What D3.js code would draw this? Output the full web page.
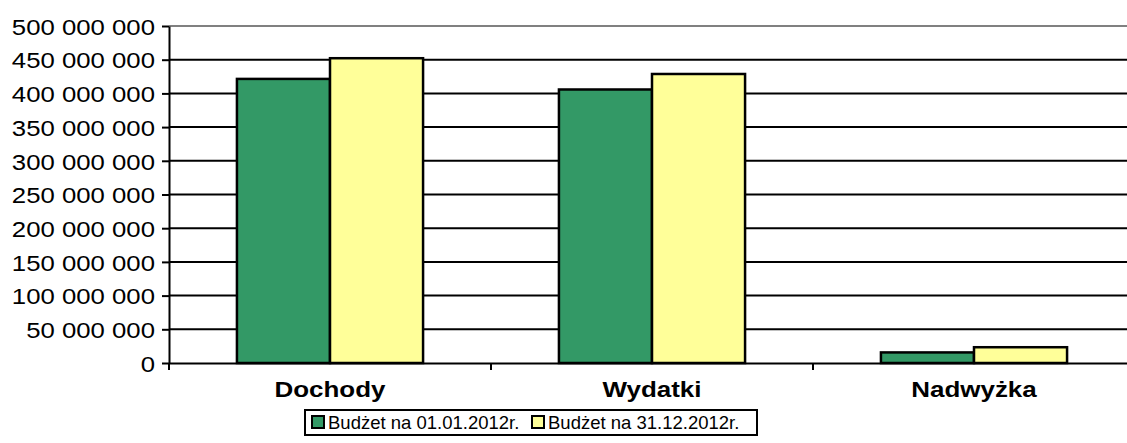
<!DOCTYPE html>
<html>
<head>
<meta charset="utf-8">
<script src="https://cdn.jsdelivr.net/npm/d3@7"></script>
<style>
  body { margin: 0; background: #fff; }
  svg { display: block; }
  svg text { font-family: "Liberation Sans", Arial, sans-serif; }
</style>
</head>
<body>
<div id="chart"></div>
<script>
// data
var categories = ["Dochody", "Wydatki", "Nadwyżka"];
var seriesNames = ["Budżet na 01.01.2012r.", "Budżet na 31.12.2012r."];
var budzetPoczatek = [421500000, 405800000, 15700000];
var budzetKoniec = [452200000, 428800000, 23400000];
var yTicks = [0, 50000000, 100000000, 150000000, 200000000, 250000000,
              300000000, 350000000, 400000000, 450000000, 500000000];

var cfg = {
    width: 1127,
    height: 443,
    left: 169,
    right: 1135,
    top: 26,
    bottom: 363
};
var colors = ["#339966", "#ffff99"];

var svg = d3.select("#chart").append("svg")
    .attr("width", cfg.width)
    .attr("height", cfg.height);

var x = d3.scaleBand()
    .domain(categories)
    .range([cfg.left, cfg.right])
    .paddingInner(0)
    .paddingOuter(0);

// two bars per category, gap on each side (Excel gap width ~73%)
var inner = d3.scaleBand()
    .domain([0, 1])
    .range([0, x.bandwidth()])
    .paddingInner(0)
    .paddingOuter(0.73);

var y = d3.scaleLinear()
    .domain([0, 500000000])
    .range([cfg.bottom, cfg.top]);

var fmt = function(d) {
    return d3.format(",")(d).replace(/,/g, " ");
};

// gridlines
svg.append("g")
    .selectAll("line")
    .data(yTicks.filter(function(d) { return d > 0; }))
    .enter().append("line")
    .attr("x1", cfg.left)
    .attr("x2", cfg.right)
    .attr("y1", function(d) { return y(d); })
    .attr("y2", function(d) { return y(d); })
    .attr("stroke", function(d) { return d == 500000000 ? "#808080" : "#000"; })
    .attr("stroke-width", 2);

// bars
var rows = categories.map(function(c, i) {
    return {cat: c, vals: [budzetPoczatek[i], budzetKoniec[i]]};
});

svg.append("g")
    .selectAll("g")
    .data(rows)
    .enter().append("g")
    .attr("transform", function(d) { return "translate(" + x(d.cat) + ",0)"; })
    .selectAll("rect")
    .data(function(d) { return d.vals; })
    .enter().append("rect")
    .attr("x", function(d, i) { return inner(i); })
    .attr("y", function(d) { return y(d); })
    .attr("width", inner.bandwidth())
    .attr("height", function(d) { return y(0) - y(d); })
    .attr("fill", function(d, i) { return colors[i]; })
    .attr("stroke", "#000")
    .attr("stroke-width", 2.5);

// axes
var yAxis = d3.axisLeft(y)
    .tickValues(yTicks)
    .tickSizeInner(7)
    .tickSizeOuter(0)
    .tickFormat(fmt);

var gy = svg.append("g")
    .attr("transform", "translate(" + cfg.left + ",0)")
    .call(yAxis)
    .attr("font-family", null);
gy.select(".domain").attr("stroke", "#000").attr("stroke-width", 2);
gy.selectAll(".tick line").attr("stroke-width", 2);
gy.selectAll(".tick text")
    .attr("x", 0)
    .attr("dy", "0.36em")
    .attr("transform", "translate(-14,0) scale(1.12,1)")
    .style("font-size", "23px")
    .attr("fill", "#000");

var xAxis = d3.axisBottom(x)
    .tickSize(0)
    .tickFormat(function(d) { return d; });

var gx = svg.append("g")
    .attr("transform", "translate(0," + cfg.bottom + ")")
    .call(xAxis)
    .attr("font-family", null);
gx.select(".domain").attr("stroke", "#000").attr("stroke-width", 2);
gx.selectAll(".tick text")
    .attr("y", 0)
    .attr("dy", 0)
    .attr("transform", "translate(0,34) scale(1.18,1)")
    .style("font-size", "22px")
    .style("font-weight", "bold")
    .attr("fill", "#000");

// category separators below the axis
svg.append("g")
    .selectAll("line")
    .data(categories.concat(["end"]))
    .enter().append("line")
    .attr("x1", function(d, i) { return cfg.left + i * x.bandwidth(); })
    .attr("x2", function(d, i) { return cfg.left + i * x.bandwidth(); })
    .attr("y1", cfg.bottom)
    .attr("y2", cfg.bottom + 7)
    .attr("stroke", "#000")
    .attr("stroke-width", 2);

// legend
var legend = svg.append("g").attr("transform", "translate(305,410)");
legend.append("rect")
    .attr("width", 452)
    .attr("height", 25)
    .attr("fill", "#fff")
    .attr("stroke", "#000")
    .attr("stroke-width", 2);

var item = legend.selectAll(".legend")
    .data(seriesNames)
    .enter().append("g")
    .attr("class", "legend")
    .attr("transform", function(d, i) { return "translate(" + (7 + i * 220) + ",0)"; });

item.append("rect")
    .attr("y", 6)
    .attr("width", 12)
    .attr("height", 12)
    .attr("fill", function(d, i) { return colors[i]; })
    .attr("stroke", "#000")
    .attr("stroke-width", 2);

item.append("text")
    .attr("x", 16)
    .attr("y", 19)
    .style("font-size", "18.5px")
    .text(function(d) { return d; });
</script>
</body>
</html>
